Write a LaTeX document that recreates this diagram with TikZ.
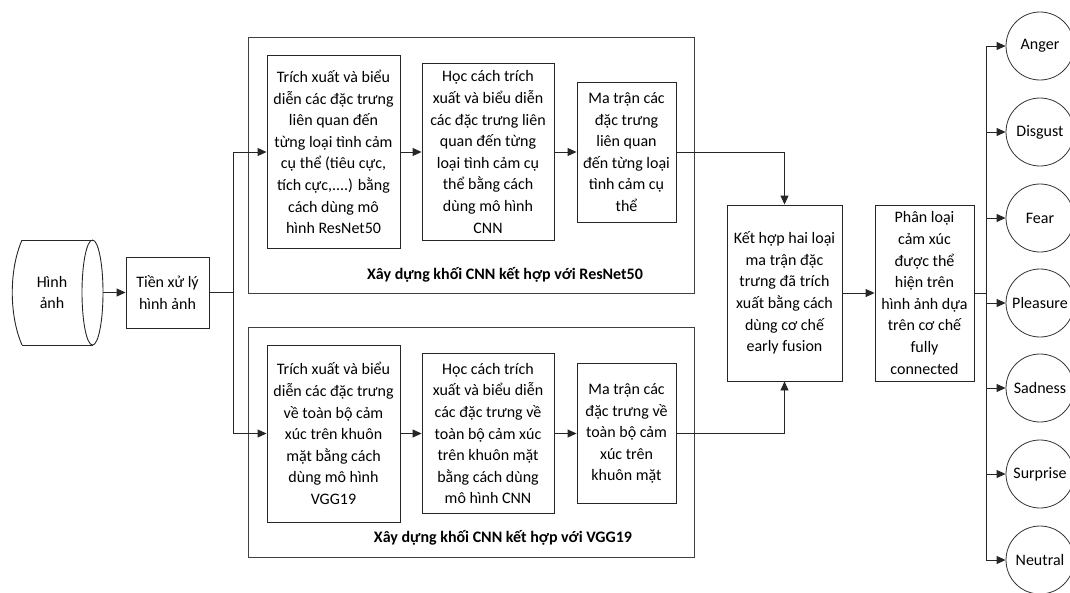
\documentclass[tikz,border=0pt]{standalone}
\usepackage{fontspec}
\setmainfont{Carlito}
\usetikzlibrary{arrows.meta}
\tikzset{
  box/.style={draw=black!85, line width=0.9pt, align=center, inner sep=2pt, font=\fontsize{16}{21.6}\selectfont},
  frame/.style={draw=black!75, line width=0.9pt},
  emo/.style={draw=black!80, line width=0.8pt, circle, minimum size=68pt, inner sep=0pt, font=\fontsize{16}{19}\selectfont},
  arr/.style={draw=black!85, line width=0.9pt, -{Triangle[length=9pt,width=8pt]}},
  ln/.style={draw=black!85, line width=0.9pt},
  lbl/.style={font=\fontsize{16}{19}\selectfont\bfseries}
}
\begin{document}
\begin{tikzpicture}[x=1pt,y=-1pt]
\useasboundingbox (0,0) rectangle (1070,592);
% containers
\draw[frame] (248,37) rectangle (694,293);
\draw[frame] (248,327) rectangle (694,557);
\node[lbl] (lt) at (505,275) {Xây dựng khối CNN kết hợp với ResNet50};
\node[lbl] (lb) at (503,538) {Xây dựng khối CNN kết hợp với VGG19};
% cylinder
\draw[ln] (22,240) -- (93,240);
\draw[ln] (22,345) -- (93,345);
\draw[ln] (22,240) .. controls (9,270) and (9,315) .. (22,345);
\draw[ln] (92.5,292.5) ellipse [x radius=10.5, y radius=52.5];
\node[align=center, font=\fontsize{16}{21.6}\selectfont] (img) at (52,292.5) {Hình\\ảnh};
\coordinate (cylR) at (103,292.5);
% boxes
\node[box, minimum width=83pt, minimum height=71pt] (pre) at (167.5,292.5) {Tiền xử lý\\hình ảnh};
\node[box, minimum width=133pt, minimum height=193pt] (t1) at (333.5,152) {Trích xuất và biểu\\diễn các đặc trưng\\liên quan đến\\từng loại tình cảm\\cụ thể (tiêu cực,\\tích cực,....) bằng\\cách dùng mô\\hình ResNet50};
\node[box, minimum width=132pt, minimum height=177pt] (t2) at (488,152) {Học cách trích\\xuất và biểu diễn\\các đặc trưng liên\\quan đến từng\\loại tình cảm cụ\\thể bằng cách\\dùng mô hình\\CNN};
\node[box, minimum width=99pt, minimum height=140pt] (t3) at (626.5,152) {Ma trận các\\đặc trưng\\liên quan\\đến từng loại\\tình cảm cụ\\thể};
\node[box, minimum width=133pt, minimum height=177pt] (b1) at (333.5,433.5) {Trích xuất và biểu\\diễn các đặc trưng\\về toàn bộ cảm\\xúc trên khuôn\\mặt bằng cách\\dùng mô hình\\VGG19};
\node[box, minimum width=132pt, minimum height=160pt] (b2) at (488,433.5) {Học cách trích\\xuất và biểu diễn\\các đặc trưng về\\toàn bộ cảm xúc\\trên khuôn mặt\\bằng cách dùng\\mô hình CNN};
\node[box, minimum width=99pt, minimum height=140pt] (b3) at (626.5,433.5) {Ma trận các\\đặc trưng về\\toàn bộ cảm\\xúc trên\\khuôn mặt};
\node[box, minimum width=115pt, minimum height=176pt] (fus) at (784.5,293) {Kết hợp hai loại\\ma trận đặc\\trưng đã trích\\xuất bằng cách\\dùng cơ chế\\early fusion};
\node[box, minimum width=99pt, minimum height=176pt] (cls) at (924.5,293) {Phân loại\\cảm xúc\\được thể\\hiện trên\\hình ảnh dựa\\trên cơ chế\\fully\\connected};
% emotions
\node[emo] (e1) at (1040,46) {Anger};
\node[emo] (e2) at (1040,132) {Disgust};
\node[emo] (e3) at (1040,218) {Fear};
\node[emo] (e4) at (1040,303) {Pleasure};
\node[emo] (e5) at (1040,388) {Sadness};
\node[emo] (e6) at (1040,474) {Surprise};
\node[emo] (e7) at (1040,560) {Neutral};
% connectors
\draw[arr] (cylR) -- (pre.west);
\coordinate (j0) at (233,292.5);
\coordinate (jt) at (233,152);
\coordinate (jb) at (233,433.5);
\draw[ln] (pre.east) -- (j0);
\draw[ln] (jt) -- (jb);
\draw[arr] (jt) -- (t1.west);
\draw[arr] (jb) -- (b1.west);
\draw[arr] (t1.east) -- (t2.west);
\draw[arr] (t2.east) -- (t3.west);
\draw[arr] (b1.east) -- (b2.west);
\draw[arr] (b2.east) -- (b3.west);
\draw[arr] (t3.east) -| (fus.north);
\draw[arr] (b3.east) -| (fus.south);
\draw[arr] (fus.east) -- (cls.west);
\coordinate (bus) at (986,293);
\coordinate (busT) at (986,46);
\coordinate (busB) at (986,560);
\draw[ln] (cls.east) -- (bus);
\draw[ln] (busT) -- (busB);
\foreach \e in {e1,e2,e3,e4,e5,e6,e7}{
  \draw[arr] (busT |- \e.west) -- (\e.west);
}
\end{tikzpicture}
\end{document}
